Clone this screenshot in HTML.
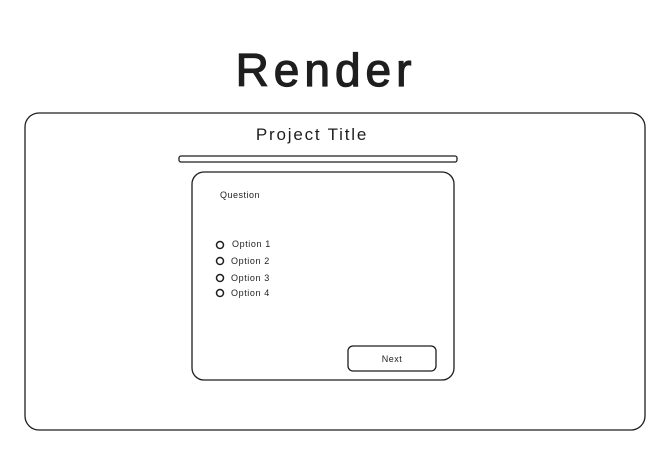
<!DOCTYPE html>
<html><head><style>
html,body{margin:0;padding:0;background:#fff;}
svg{display:block;}
text{font-family:"Liberation Sans",sans-serif;fill:#1e1e1e;}
</style></head><body>
<svg width="661" height="450" viewBox="0 0 661 450" xmlns="http://www.w3.org/2000/svg">
<text x="326" y="86" font-size="46" text-anchor="middle" letter-spacing="5" stroke="#1e1e1e" stroke-width="1.2">Render</text>
<rect x="25" y="113" width="620" height="317" rx="14" fill="none" stroke="#1e1e1e" stroke-width="1.3"/>
<text x="312" y="140" font-size="17" text-anchor="middle" letter-spacing="1.8">Project Title</text>
<rect x="179" y="156" width="278" height="6" rx="2" fill="none" stroke="#1e1e1e" stroke-width="1.3"/>
<rect x="192" y="172" width="262" height="208" rx="12" fill="none" stroke="#1e1e1e" stroke-width="1.3"/>
<text x="220" y="198" font-size="9" letter-spacing="0.5">Question</text>
<g fill="none" stroke="#1e1e1e" stroke-width="1.5">
<circle cx="220" cy="245" r="3.5"/>
<circle cx="220" cy="261" r="3.5"/>
<circle cx="220" cy="278" r="3.5"/>
<circle cx="220" cy="293" r="3.5"/>
</g>
<text x="232" y="247" font-size="9" letter-spacing="0.6">Option 1</text>
<text x="231" y="264" font-size="9" letter-spacing="0.6">Option 2</text>
<text x="231" y="281" font-size="9" letter-spacing="0.6">Option 3</text>
<text x="231" y="296" font-size="9" letter-spacing="0.6">Option 4</text>
<rect x="348" y="346" width="88" height="25" rx="5" fill="none" stroke="#1e1e1e" stroke-width="1.3"/>
<text x="392" y="362" font-size="9" text-anchor="middle" letter-spacing="0.5">Next</text>
</svg>
</body></html>
